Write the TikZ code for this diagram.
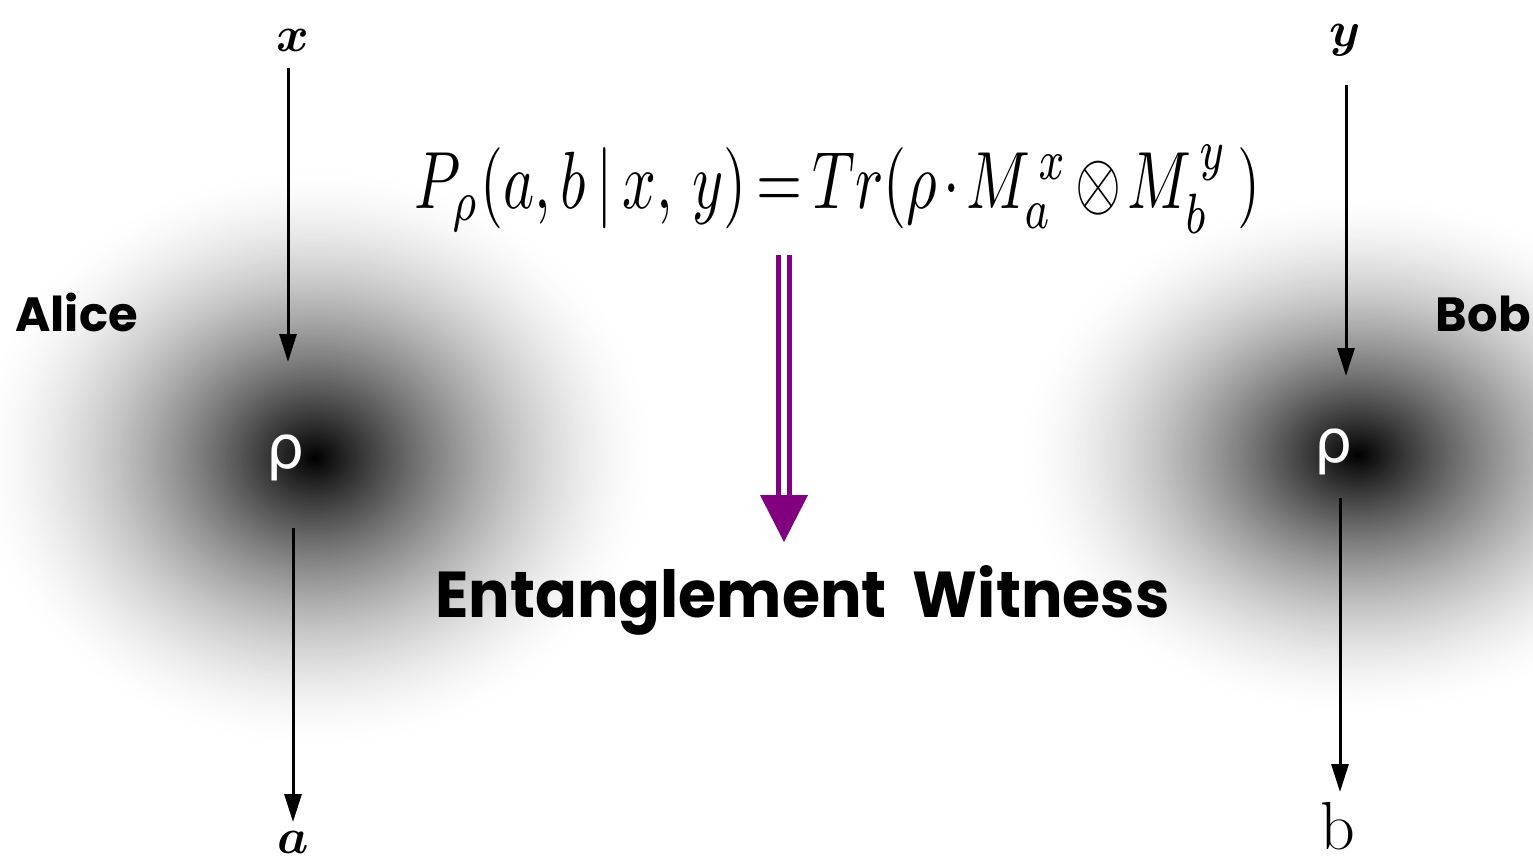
\documentclass[tikz,border=0pt]{standalone}
\usepackage{fontspec}
\usepackage{amsmath,amssymb}
\usepackage{graphicx}
\usetikzlibrary{arrows.meta}
\newfontfamily\comic{Poppins}
\newfontfamily\dejavu{DejaVu Sans}
\definecolor{mypurple}{RGB}{128,0,128}
\begin{document}
\begin{tikzpicture}[x=0.5pt,y=-0.5pt,
  arr/.style={line width=1.5pt,-{Triangle[length=14pt,width=8.5pt]}},
  comiclbl/.style={inner sep=0pt,font=\comic\bfseries\fontsize{24}{28}\selectfont},
  rholbl/.style={inner sep=0pt,text=white,font=\dejavu\fontsize{30}{30}\selectfont},
  dbl/.style={mypurple,line width=2.5pt,double=white,double distance=3pt}]
\useasboundingbox (0,0) rectangle (1533,864);
\clip (0,0) rectangle (1533,864);
\fill[white] (0,0) rectangle (1533,864);
% blobs (concentric rings)
\foreach \cx/\cy/\rx/\ry in {315/458/170/145, 1358/455/170/130}{
  \foreach \i in {0,...,109}{
    \pgfmathsetmacro\s{1-\i/110}
    \pgfmathsetmacro\d{100*pow(1-\s+0.0045,1.65)}
    \pgfmathsetmacro\ex{\s*\rx}
    \pgfmathsetmacro\ey{\s*\ry}
    \fill[black!\d] (\cx,\cy) ellipse [x radius=\ex pt, y radius=\ey pt];
  }
}
% labels
\node[comiclbl,anchor=base west] (alice) at (15,331) {Alice};
\node[comiclbl,anchor=base east] (bob) at (1531,331) {Bob};
\node[rholbl] (rhoA) at (286,458) {ρ};
\node[rholbl] (rhoB) at (1334,452) {ρ};
\node[inner sep=0pt] (xl) at (293,40) {\fontsize{36}{36}\selectfont$\boldsymbol{x}$};
\node[inner sep=0pt] (yl) at (1345,40) {\fontsize{36}{36}\selectfont$\boldsymbol{y}$};
\node[inner sep=0pt] (al) at (293,842) {\fontsize{36}{36}\selectfont$\boldsymbol{a}$};
\node[inner sep=0pt] (bl) at (1338,826) {\fontsize{34}{34}\selectfont b};
% formula
\node[inner sep=0pt] (eq) at (838,189) {\resizebox*{423pt}{44pt}{\thickmuskip=3mu\medmuskip=2mu$P_{\rho}(a,b\,|\,x,\,y)=Tr(\rho\cdot M_{a}^{\,x}\otimes M_{b}^{\,y}\,)$}};
\node[inner sep=0pt,anchor=base west] (ew) at (435,617) {\resizebox{367pt}{26pt}{\comic\bfseries Entanglement\ \ Witness}};
% arrows
\coordinate (a1s) at (288,68);
\coordinate (a1e) at (288,362);
\coordinate (a2s) at (293,528);
\coordinate (a2e) at (293,822);
\coordinate (b1s) at (1346,85);
\coordinate (b1e) at (1346,376);
\coordinate (b2s) at (1340,498);
\coordinate (b2e) at (1340,792);
\draw[arr] (a1s) -- (a1e);
\draw[arr] (a2s) -- (a2e);
\draw[arr] (b1s) -- (b1e);
\draw[arr] (b2s) -- (b2e);
% purple double arrow
\coordinate (ptop) at (784,255);
\coordinate (pbase) at (784,495);
\coordinate (ptip) at (784,542);
\draw[dbl] (ptop) -- (pbase);
\fill[mypurple] ([xshift=-12pt]pbase) -- ([xshift=12pt]pbase) -- (ptip) -- cycle;
\end{tikzpicture}
\end{document}
